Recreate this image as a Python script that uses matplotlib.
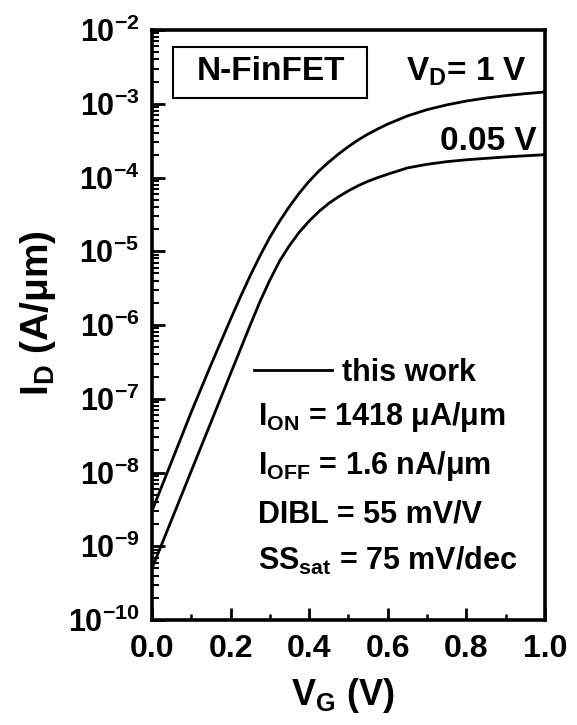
import numpy as np
import matplotlib
matplotlib.use("Agg")
import matplotlib.pyplot as plt
from matplotlib.ticker import FixedLocator, MultipleLocator, LogLocator, FuncFormatter, NullFormatter
from matplotlib.patches import Rectangle

# gate voltage (V) and drain current (A/um)
vg = [0.00, 0.05, 0.10, 0.15, 0.20,
      0.225, 0.25, 0.275, 0.30, 0.325, 0.35, 0.375, 0.40, 0.425, 0.45, 0.475, 0.50,
      0.525, 0.55, 0.575, 0.60,
      0.65, 0.70, 0.75, 0.80, 0.85, 0.90, 0.95, 1.00]
id_vd1 = [3.02e-9, 1.41e-8, 6.61e-8, 2.88e-7, 1.20e-6,
          2.40e-6, 4.68e-6, 8.71e-6, 1.55e-5, 2.57e-5, 4.07e-5, 6.17e-5, 8.91e-5, 1.23e-4, 1.62e-4, 2.09e-4, 2.63e-4,
          3.24e-4, 3.89e-4, 4.57e-4, 5.31e-4,
          6.84e-4, 8.32e-4, 9.66e-4, 1.089e-3, 1.197e-3, 1.288e-3, 1.371e-3, 1.445e-3]
id_vd005 = [5.01e-10, 2.29e-9, 1.05e-8, 4.79e-8, 2.19e-7,
            4.68e-7, 1.00e-6, 2.09e-6, 4.07e-6, 7.41e-6, 1.20e-5, 1.82e-5, 2.57e-5, 3.47e-5, 4.47e-5, 5.50e-5, 6.61e-5,
            7.76e-5, 8.91e-5, 1.00e-4, 1.11e-4,
            1.35e-4, 1.51e-4, 1.64e-4, 1.74e-4, 1.82e-4, 1.90e-4, 1.97e-4, 2.04e-4]
curve_labels = ["V$_D$= 1 V", "0.05 V"]
xticks = [0.0, 0.2, 0.4, 0.6, 0.8, 1.0]
ylim = (1e-10, 1e-2)
stats = ["I$_{ON}$ = 1418 μA/μm", "I$_{OFF}$ = 1.6 nA/μm", "DIBL = 55 mV/V", "SS$_{sat}$ = 75 mV/dec"]

plt.rcParams.update({
    "font.family": ["Liberation Sans", "DejaVu Sans"],
    "font.weight": "bold",
    "mathtext.fontset": "custom",
    "mathtext.rm": "Liberation Sans:bold",
    "mathtext.it": "Liberation Sans:bold",
    "mathtext.bf": "Liberation Sans:bold",
    "mathtext.sf": "Liberation Sans:bold",
})

fig = plt.figure(figsize=(5.77, 7.25), dpi=100)
ax = fig.add_axes([0.2634, 0.1448, 0.6811, 0.8138])

line, = ax.plot(vg, id_vd1, color="black", lw=2.0)
ax.plot(vg, id_vd005, color="black", lw=2.0)
ax.set_yscale("log")
ax.set_xlim(0, 1.0)
ax.set_ylim(*ylim)

for s in ax.spines.values():
    s.set_linewidth(2.6)

ax.xaxis.set_major_locator(FixedLocator(xticks))
ax.xaxis.set_minor_locator(MultipleLocator(0.1))
ax.xaxis.set_major_formatter(FuncFormatter(lambda v, p: f"{v:.1f}"))
ax.yaxis.set_major_locator(LogLocator(base=10, numticks=20))
ax.yaxis.set_minor_locator(LogLocator(base=10, subs=np.arange(2, 10), numticks=20))
ax.yaxis.set_minor_formatter(NullFormatter())
ax.yaxis.set_major_formatter(FuncFormatter(lambda v, p: "$10^{%d}$" % int(round(np.log10(v)))))

ax.tick_params(which="both", direction="in", top=False, right=False)
ax.tick_params(axis="x", which="major", length=9, width=2, pad=10, labelsize=23)
ax.tick_params(axis="x", which="minor", length=4.5, width=1.8)
ax.tick_params(axis="y", which="major", length=9, width=2, pad=9, labelsize=22)
ax.tick_params(axis="y", which="minor", length=5, width=1.5)

ax.set_xlabel("V$_G$ (V)", fontsize=26, fontweight="bold", va="baseline")
ax.xaxis.set_label_coords(0.486, -0.144)
ax.set_ylabel("I$_D$ (A/μm)", fontsize=28, fontweight="bold", va="center")
ax.yaxis.set_label_coords(-0.29, 0.52)

# device box
ax.add_patch(Rectangle((0.0534, 0.8847), 0.4936, 0.0864, transform=ax.transAxes,
                       fill=False, lw=1.5, ec="black"))
ax.text(0.303, 0.929, "N-FinFET", transform=ax.transAxes, ha="center", va="center",
        fontsize=24, fontweight="bold")

ax.text(0.954, 0.915, curve_labels[0], transform=ax.transAxes, ha="right", va="baseline",
        fontsize=24, fontweight="bold")
ax.text(0.98, 0.797, curve_labels[1], transform=ax.transAxes, ha="right", va="baseline",
        fontsize=24, fontweight="bold")

ax.legend([line], ["this work"], loc="center left", bbox_to_anchor=(0.26, 0.419),
          frameon=False, handlelength=2.55, handletextpad=0.33, borderpad=0,
          borderaxespad=0, prop={"weight": "bold", "size": 22})

for txt, yy in zip(stats, [0.3305, 0.2475, 0.1661, 0.0847]):
    ax.text(0.27, yy, txt, transform=ax.transAxes, ha="left", va="baseline",
            fontsize=22, fontweight="bold")

fig.savefig("out.png", dpi=100)
